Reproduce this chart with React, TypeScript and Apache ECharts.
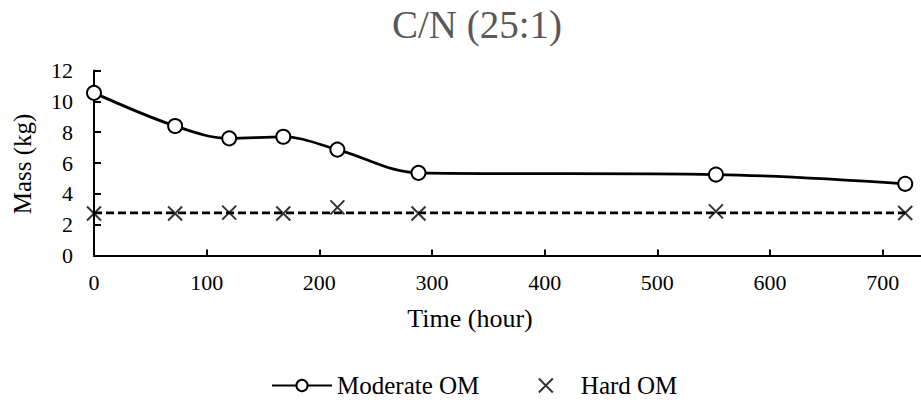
import React, { useEffect, useRef } from "react";
import * as echarts from "echarts";

const titleText = "C/N (25:1)";
const timeHours = [0, 72, 120, 168, 216, 288, 552, 720];
const moderateOM = [10.55, 8.4, 7.6, 7.7, 6.87, 5.36, 5.25, 4.65];
const hardOM = [2.72, 2.72, 2.78, 2.72, 3.12, 2.72, 2.86, 2.76];
const hardTrend = [[0, 2.77], [720, 2.77]];
const xTicks = [0, 100, 200, 300, 400, 500, 600, 700];
const seriesNames = ["Moderate OM", "Hard OM"];

const FONT = "'Liberation Serif', 'Times New Roman', serif";

export default function App() {
  const ref = useRef<HTMLDivElement>(null);
  useEffect(() => {
    document.body.style.margin = "0";
    const chart = echarts.init(ref.current!, null, { renderer: "svg" });
    chart.setOption({
      animation: false,
      backgroundColor: "#ffffff",
      textStyle: { fontFamily: FONT },
      title: {
        text: titleText,
        left: 472,
        top: 0,
        textAlign: "center",
        textStyle: { fontFamily: FONT, fontSize: 39, fontWeight: "normal", color: "#595959" },
      },
      legend: {
        left: 266,
        top: 368,
        itemWidth: 60,
        itemHeight: 14,
        itemGap: 57,
        data: seriesNames,
        textStyle: { fontFamily: FONT, fontSize: 25, fontWeight: "normal", color: "#000" },
      },
      grid: { left: 94, right: 0, top: 70.5, height: 185 },
      xAxis: {
        type: "value",
        min: 0,
        max: 734,
        interval: 100,
        axisLine: { lineStyle: { color: "#000", width: 2 } },
        axisTick: { inside: true, length: 6, lineStyle: { color: "#000", width: 2 }, customValues: xTicks },
        axisLabel: { customValues: xTicks, fontFamily: FONT, fontSize: 22, fontWeight: "normal", color: "#000", margin: 16 },
        splitLine: { show: false },
      },
      yAxis: {
        type: "value",
        min: 0,
        max: 12,
        interval: 2,
        axisLine: { show: true, lineStyle: { color: "#000", width: 2 } },
        axisTick: { show: true, inside: true, length: 7, lineStyle: { color: "#000", width: 2 } },
        axisLabel: { fontFamily: FONT, fontSize: 22, fontWeight: "normal", color: "#000", margin: 21 },
        splitLine: { show: false },
      },
      graphic: [
        {
          type: "text",
          x: 470,
          y: 318,
          style: { text: "Time (hour)", fontFamily: FONT, fontSize: 26, fill: "#000", align: "center", verticalAlign: "middle" },
        },
        {
          type: "text",
          x: 22,
          y: 164,
          rotation: Math.PI / 2,
          style: { text: "Mass (kg)", fontFamily: FONT, fontSize: 25, fill: "#000", align: "center", verticalAlign: "middle" },
        },
      ],
      series: [
        {
          name: seriesNames[0],
          type: "line",
          smooth: 0.35,
          data: timeHours.map((t, i) => [t, moderateOM[i]]),
          symbol: "circle",
          symbolSize: 14,
          lineStyle: { color: "#000", width: 2.8 },
          itemStyle: { color: "#fff", borderColor: "#000", borderWidth: 2 },
          z: 3,
        },
        {
          name: "trend",
          type: "line",
          data: hardTrend,
          symbol: "none",
          lineStyle: { color: "#000", width: 2.8, type: [8, 4] },
          z: 2,
        },
        {
          name: seriesNames[1],
          type: "scatter",
          data: timeHours.map((t, i) => [t, hardOM[i]]),
          symbol: "path://M0,0L10,10M10,0L0,10",
          symbolSize: 14,
          itemStyle: { color: "none", borderColor: "#000", borderWidth: 2 },
          z: 4,
        },
      ],
    });
    return () => chart.dispose();
  }, []);
  return <div ref={ref} style={{ width: 921, height: 400 }} />;
}
